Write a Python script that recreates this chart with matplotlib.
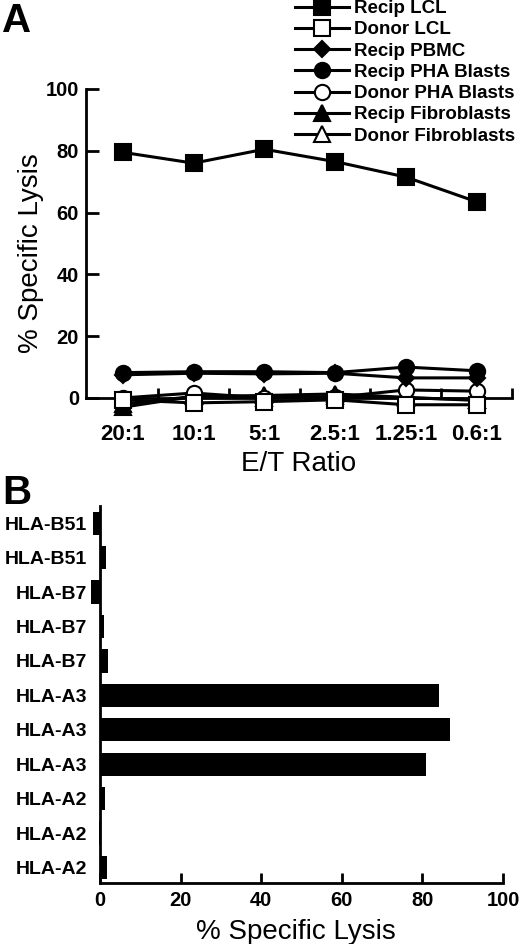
import matplotlib
matplotlib.use("Agg")
import matplotlib.pyplot as plt
from matplotlib.ticker import FixedLocator

plt.rcParams['font.family'] = ['Liberation Sans', 'DejaVu Sans']

# ---- Panel A data ----
ratios = ['20:1', '10:1', '5:1', '2.5:1', '1.25:1', '0.6:1']
recip_lcl = [79.5, 76.0, 80.5, 76.5, 71.5, 63.5]
donor_lcl = [-0.6, -1.6, -1.2, -0.6, -2.2, -2.2]
recip_pbmc = [7.5, 8.0, 7.8, 8.0, 6.5, 6.5]
recip_pha = [8.2, 8.5, 8.5, 8.2, 10.0, 8.8]
donor_pha = [0.0, 1.6, 0.0, 0.2, 2.6, 2.2]
recip_fibro = [-3.0, 0.5, 0.0, 0.5, 0.0, -0.5]
donor_fibro = [-2.0, 0.5, 0.8, 1.3, 0.2, -0.8]

# ---- Panel B data ----
hla_labels = ['HLA-B51', 'HLA-B51', 'HLA-B7', 'HLA-B7', 'HLA-B7',
              'HLA-A3', 'HLA-A3', 'HLA-A3', 'HLA-A2', 'HLA-A2', 'HLA-A2']
hla_lysis = [-1.7, 1.5, -2.2, 1.0, 2.0, 84.0, 86.8, 81.0, 1.2, -0.3, 1.8]

W, H = 520, 944
fig = plt.figure(figsize=(W / 100, H / 100), dpi=100)

def px_axes(left, top, right, bottom):
    return fig.add_axes([left / W, 1 - bottom / H, (right - left) / W, (bottom - top) / H])

TICK_FS = 14.5
LABEL_FS = 20
LW = 2.2
SP = 2.0

# ---------------- Panel A ----------------
axA = px_axes(86, 89, 512, 416.5)
x = list(range(1, len(ratios) + 1))

series = [
    ('Recip LCL', recip_lcl, 's', 'black', 9),
    ('Donor LCL', donor_lcl, 's', 'white', 8),
    ('Recip PBMC', recip_pbmc, 'D', 'black', 5),
    ('Recip PHA Blasts', recip_pha, 'o', 'black', 6),
    ('Donor PHA Blasts', donor_pha, 'o', 'white', 4),
    ('Recip Fibroblasts', recip_fibro, '^', 'black', 3),
    ('Donor Fibroblasts', donor_fibro, '^', 'white', 2),
]
for name, vals, mk, fc, z in series:
    ms = 11 if mk != 'D' else 8
    axA.plot(x, vals, color='black', lw=LW, marker=mk, markersize=ms,
             markerfacecolor=fc, markeredgecolor='black', markeredgewidth=1.5,
             label=name, zorder=z, clip_on=False)

axA.set_xlim(0.48, 6.5)
axA.set_ylim(-6, 100)
for s in ['top', 'right']:
    axA.spines[s].set_visible(False)
axA.spines['bottom'].set_position(('data', 0))
axA.spines['left'].set_bounds(0, 100)
axA.spines['left'].set_linewidth(SP)
axA.spines['bottom'].set_linewidth(SP)
axA.set_yticks([0, 20, 40, 60, 80, 100])
axA.tick_params(axis='y', direction='in', length=9, width=SP, pad=5, labelsize=TICK_FS)
axA.set_xticks(x)
axA.set_xticklabels(ratios)
axA.xaxis.set_minor_locator(FixedLocator([1.5, 2.5, 3.5, 4.5, 5.5, 6.5]))
axA.tick_params(axis='x', which='major', length=0, pad=19, labelsize=16)
axA.tick_params(axis='x', which='minor', direction='in', length=7, width=SP)
for lab in axA.get_xticklabels() + axA.get_yticklabels():
    lab.set_fontweight('bold')
axA.set_xlabel('E/T Ratio', fontsize=LABEL_FS, labelpad=4)
axA.set_ylabel('% Specific Lysis', fontsize=LABEL_FS, labelpad=1)

leg = axA.legend(loc='upper left', bbox_to_anchor=(295 / W, 1 - 0 / H),
                 bbox_transform=fig.transFigure, frameon=False,
                 prop={'size': 13.5, 'weight': 'bold'},
                 handlelength=2.9, handletextpad=0.25, labelspacing=0.22,
                 borderpad=0, borderaxespad=0)

fig.text(2 / W, 1 - 2 / H, 'A', fontsize=29, fontweight='bold', va='top', ha='left')

# ---------------- Panel B ----------------
axB = px_axes(87.9, 506, 503, 883)
ypos = list(range(len(hla_labels)))
axB.barh(ypos, hla_lysis, height=0.68, color='black')
axB.set_xlim(-3, 100)
axB.set_ylim(len(hla_labels) - 1 + 0.45, -0.5)
for s in ['top', 'right']:
    axB.spines[s].set_visible(False)
axB.spines['left'].set_position(('data', 0))
axB.spines['left'].set_linewidth(SP)
axB.spines['bottom'].set_linewidth(SP)
axB.spines['bottom'].set_bounds(0, 100)
axB.set_yticks(ypos)
axB.set_yticklabels(hla_labels)
axB.tick_params(axis='y', length=0, pad=9, labelsize=14)
axB.set_xticks([0, 20, 40, 60, 80, 100])
axB.tick_params(axis='x', direction='in', length=7, width=SP, pad=6, labelsize=TICK_FS)
for lab in axB.get_xticklabels() + axB.get_yticklabels():
    lab.set_fontweight('bold')
axB.set_xlabel('% Specific Lysis', fontsize=LABEL_FS, labelpad=6)

fig.text(2 / W, 1 - 474 / H, 'B', fontsize=29, fontweight='bold', va='top', ha='left')

fig.savefig('out.png', dpi=100)
